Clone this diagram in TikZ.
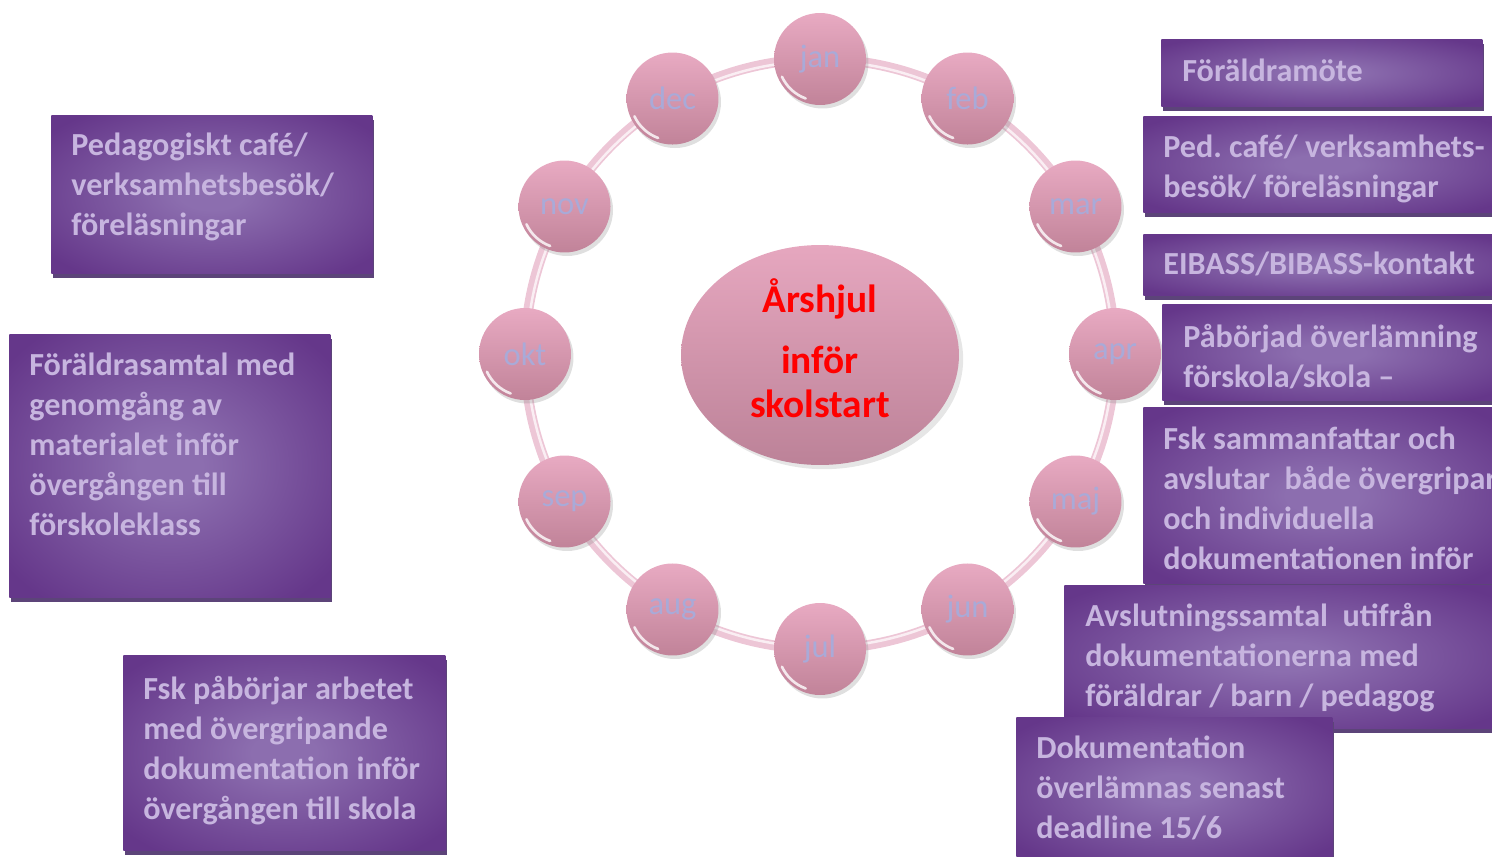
\documentclass[tikz,border=0pt]{standalone}
\usepackage{fontspec}
\setmainfont{Carlito}
\usepackage{tikz}
\usetikzlibrary{shapes.geometric}
\usetikzlibrary{shadows}

\definecolor{edgepurple}{HTML}{65378A}
\definecolor{glowpurple}{HTML}{8C6EAF}
\definecolor{shadowpurple}{HTML}{5C4479}
\definecolor{lavtext}{HTML}{C7B5DF}
\definecolor{pinktop}{HTML}{E8AAC2}
\definecolor{pinkbot}{HTML}{C18399}
\definecolor{monthtext}{HTML}{A9AAD8}
\definecolor{ringpink}{HTML}{EDC6D6}
\definecolor{ringlight}{HTML}{FAEEF3}
\definecolor{hubtop}{HTML}{E6A7BF}
\definecolor{hubbot}{HTML}{BC8298}
\pgfdeclareradialshading{boxglow}{\pgfpoint{0bp}{0bp}}{color(0bp)=(glowpurple); color(5bp)=(glowpurple); color(32bp)=(edgepurple); color(50bp)=(edgepurple)}

\begin{document}
\begin{tikzpicture}[x=0.02cm, y=-0.02cm,
    infobox/.style={rectangle, anchor=north west, inner sep=0, shade, shading=boxglow,
      drop shadow={shadow xshift=0.04cm, shadow yshift=-0.1cm, fill=shadowpurple, opacity=1}},
    infotext/.style={anchor=base west, inner sep=0, align=left, text=lavtext,
      font=\bfseries\fontsize{18.3}{22.76}\selectfont},
    month/.style={circle, minimum size=1.84cm, inner sep=0, top color=pinktop, bottom color=pinkbot,
      drop shadow={shadow xshift=0.05cm, shadow yshift=-0.07cm, opacity=0.25},
      text=monthtext, font=\fontsize{18.5}{20}\selectfont},
    glint/.style={white, line width=1.5pt, line cap=round, opacity=0.8},
    title/.style={anchor=base, inner sep=0, text=red, font=\bfseries\fontsize{22.4}{26}\selectfont}]
            \useasboundingbox (0,0) rectangle (1492,856);
            \clip (0,0) rectangle (1492,856);
            \coordinate (wheel) at (820,354);
            \draw[ringpink, line width=0.2cm] (wheel) circle [radius=5.9cm];
            \draw[ringlight, line width=0.05cm] (wheel) circle [radius=5.86cm];
            \foreach \m [count=\i from 0] in {jan,feb,mar,apr,maj,jun,jul,aug,sep,okt,nov,dec}{
                \node[month] (\m) at ({820+295*sin(30*\i)},{354-295*cos(30*\i)}) {\m};
                \draw[glint] (\m.center) ++(205:0.84cm) arc (205:250:0.84cm);
            }
            \node[ellipse, minimum width=5.56cm, minimum height=4.4cm, top color=hubtop, bottom color=hubbot,
              drop shadow={opacity=0.2}] (hub) at (820,355) {};
            \node[title] (t-ars) at (820,312) {Årshjul};
            \node[title] (t-infor) at (820,373) {inför};
            \node[title] (t-skol) at (820,417) {skolstart};

            \node[infobox, minimum width=6.42cm, minimum height=1.34cm] (b-mote) at (1161,39) {};
            \node[infobox, minimum width=7.14cm, minimum height=1.92cm] (b-ped) at (1143,116) {};
            \node[infobox, minimum width=7.14cm, minimum height=1.22cm] (b-eibass) at (1143,234) {};
            \node[infobox, minimum width=6.76cm, minimum height=1.92cm] (b-over) at (1162,304) {};
            \node[infobox, minimum width=7.14cm, minimum height=3.52cm] (b-samman) at (1143,407) {};
            \node[infobox, minimum width=8.72cm, minimum height=2.86cm] (b-avslut) at (1064,585) {};
            \node[infobox, minimum width=6.32cm, minimum height=2.86cm] (b-dok) at (1016,717) {};
            \node[infobox, minimum width=6.42cm, minimum height=3.16cm] (b-cafe) at (51,115) {};
            \node[infobox, minimum width=6.42cm, minimum height=5.26cm] (b-samtal) at (9,334) {};
            \node[infobox, minimum width=6.44cm, minimum height=3.90cm] (b-fsk) at (123,655) {};

            \node[infotext] (t-mote) at (1182,81) {Föräldramöte};
            \node[infotext] (t-ped) at (1163,197) {Ped.\ café/ verksamhets-\\besök/ föreläsningar};
            \node[infotext] (t-eibass) at (1163,274) {EIBASS/BIBASS-kontakt};
            \node[infotext] (t-over) at (1183,387) {Påbörjad överlämning\\förskola/skola –};
            \node[infotext] (t-samman) at (1163,569) {Fsk sammanfattar och\\avslutar~ både övergripar\\och individuella\\dokumentationen inför};
            \node[infotext] (t-avslut) at (1085,706) {Avslutningssamtal~ utifrån\\dokumentationerna med\\föräldrar / barn / pedagog};
            \node[infotext] (t-dok) at (1036,838) {Dokumentation\\överlämnas senast\\deadline 15/6};
            \node[infotext] (t-cafe) at (71,235) {Pedagogiskt café/\\verksamhetsbesök/\\föreläsningar};
            \node[infotext] (t-samtal) at (29,535) {Föräldrasamtal med\\genomgång av\\materialet inför\\övergången till\\förskoleklass};
            \node[infotext] (t-fsk) at (143,819) {Fsk påbörjar arbetet\\med övergripande\\dokumentation inför\\övergången till skola};
        \end{tikzpicture}
\end{document}
